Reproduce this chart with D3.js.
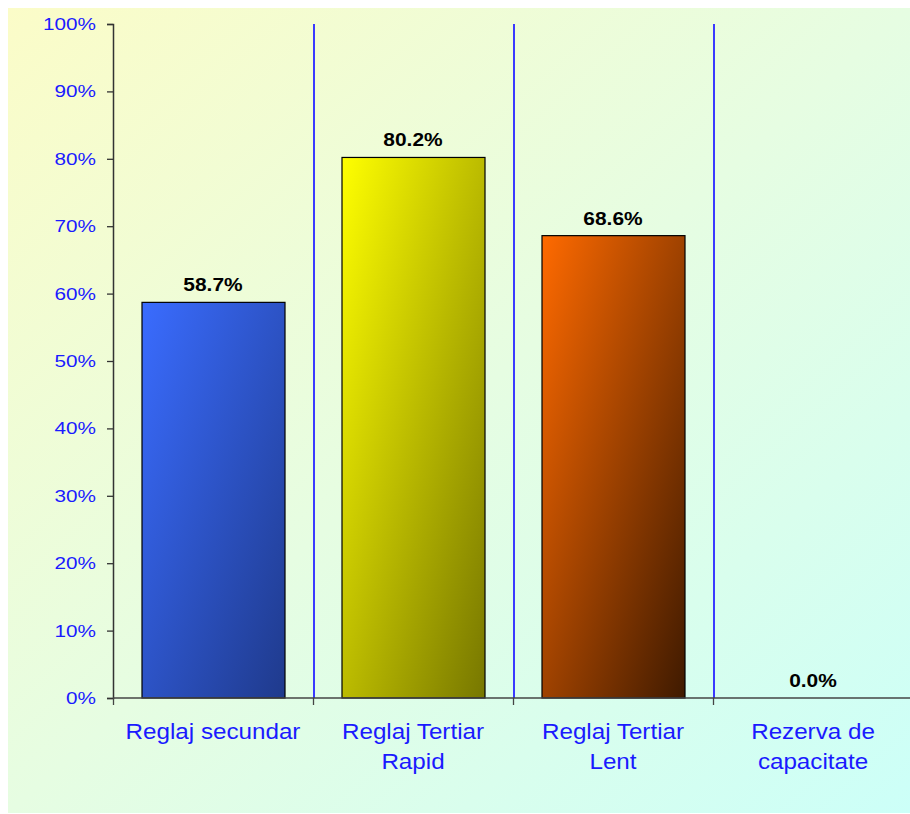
<!DOCTYPE html>
<html><head><meta charset="utf-8">
<script src="https://cdn.jsdelivr.net/npm/d3@7"></script>
<style>html,body{margin:0;padding:0;background:#fff;}svg{display:block;font-family:"Liberation Sans",Arial,sans-serif;}</style>
</head><body>
<script>
const categories = [["Reglaj secundar"], ["Reglaj Tertiar", "Rapid"], ["Reglaj Tertiar", "Lent"], ["Rezerva de", "capacitate"]];
const values = [58.7, 80.2, 68.6, 0.0];
const barColors = [["#3a6cff", "#1f3a8c"], ["#ffff00", "#777700"], ["#ff6a00", "#3f1a00"], ["#cccccc", "#888888"]];
const yTicks = [0,10,20,30,40,50,60,70,80,90,100];

const W = 910, H = 814;
const m = {left:113, top:24, bottom:698};
const svg = d3.select("body").append("svg").attr("width", W).attr("height", H);
const defs = svg.append("defs");
const bg = defs.append("linearGradient").attr("id","bg").attr("x1","0").attr("y1","0").attr("x2","1").attr("y2","1");
bg.append("stop").attr("offset","0").attr("stop-color","#fbfcc8");
bg.append("stop").attr("offset","0.5").attr("stop-color","#e6fde2");
bg.append("stop").attr("offset","1").attr("stop-color","#ccfff8");
svg.append("rect").attr("x",8).attr("y",8).attr("width",W-8).attr("height",805).attr("fill","url(#bg)");

barColors.forEach((c,i)=>{
  const g = defs.append("linearGradient").attr("id","bar"+i).attr("x1","0").attr("y1","0").attr("x2","1").attr("y2","1");
  g.append("stop").attr("offset","0").attr("stop-color",c[0]);
  g.append("stop").attr("offset","1").attr("stop-color",c[1]);
});

const x = d3.scaleBand().domain(d3.range(categories.length)).range([m.left, m.left + 200*categories.length]).paddingInner(0).paddingOuter(0);
const y = d3.scaleLinear().domain([0,100]).range([m.bottom, m.top]);
const bw = 143;

// vertical gridlines between categories
svg.append("g").selectAll("line").data(d3.range(1,categories.length)).join("line")
  .attr("x1",d=>x(d)+1).attr("x2",d=>x(d)+1).attr("y1",m.top).attr("y2",m.bottom)
  .attr("stroke","#3a3aff").attr("stroke-width",2);

// bars
svg.append("g").selectAll("rect").data(values).join("rect")
  .attr("x",(d,i)=>x(i)+(x.bandwidth()-bw)/2+0.5).attr("width",bw)
  .attr("y",d=>y(d)).attr("height",d=>y(0)-y(d))
  .attr("fill",(d,i)=>`url(#bar${i})`).attr("stroke","#000").attr("stroke-width",1.2)
  .style("display",d=>d>0?null:"none");

// value labels
svg.append("g").selectAll("text").data(values).join("text")
  .attr("transform",(d,i)=>`translate(${x(i)+x.bandwidth()/2},${y(d)-11}) scale(1.1,1)`)
  .attr("text-anchor","middle").attr("font-weight","bold").attr("font-size","19px").attr("fill","#000")
  .text(d=>d.toFixed(1)+"%");

// y axis
const yAxis = d3.axisLeft(y).tickValues(yTicks).tickFormat(d=>d+"%").tickSize(6).tickPadding(9);
const ya = svg.append("g").attr("transform",`translate(${m.left},0)`).call(yAxis);
ya.select(".domain").attr("stroke","#333").attr("stroke-width",1.5);
ya.selectAll(".tick line").attr("stroke","#333").attr("stroke-width",1.3);
ya.selectAll("text").attr("fill","#1a1aff").attr("font-size","17px").attr("font-family","Liberation Sans, Arial, sans-serif")
  .attr("x",-17/1.22).attr("transform","scale(1.22,1)");

// x axis
const xa = svg.append("g").attr("transform",`translate(0,${m.bottom})`);
xa.append("line").attr("x1",m.left).attr("x2",W).attr("y1",0).attr("y2",0).attr("stroke","#444").attr("stroke-width",1.5);
xa.selectAll("line.tk").data(d3.range(0,categories.length)).join("line").attr("class","tk")
  .attr("x1",d=>x(d)+0.5).attr("x2",d=>x(d)+0.5).attr("y1",0).attr("y2",7).attr("stroke","#444").attr("stroke-width",1.3);
const lab = xa.selectAll("text").data(categories).join("text")
  .attr("text-anchor","middle").attr("fill","#1a1aff").attr("font-size","22px")
  .attr("transform",(d,i)=>`translate(${x(i)+x.bandwidth()/2},41) scale(1.1,1)`);
lab.selectAll("tspan").data(d=>d).join("tspan").attr("x",0).attr("dy",(d,j)=>j===0?0:30).text(d=>d);
</script>
</body></html>
